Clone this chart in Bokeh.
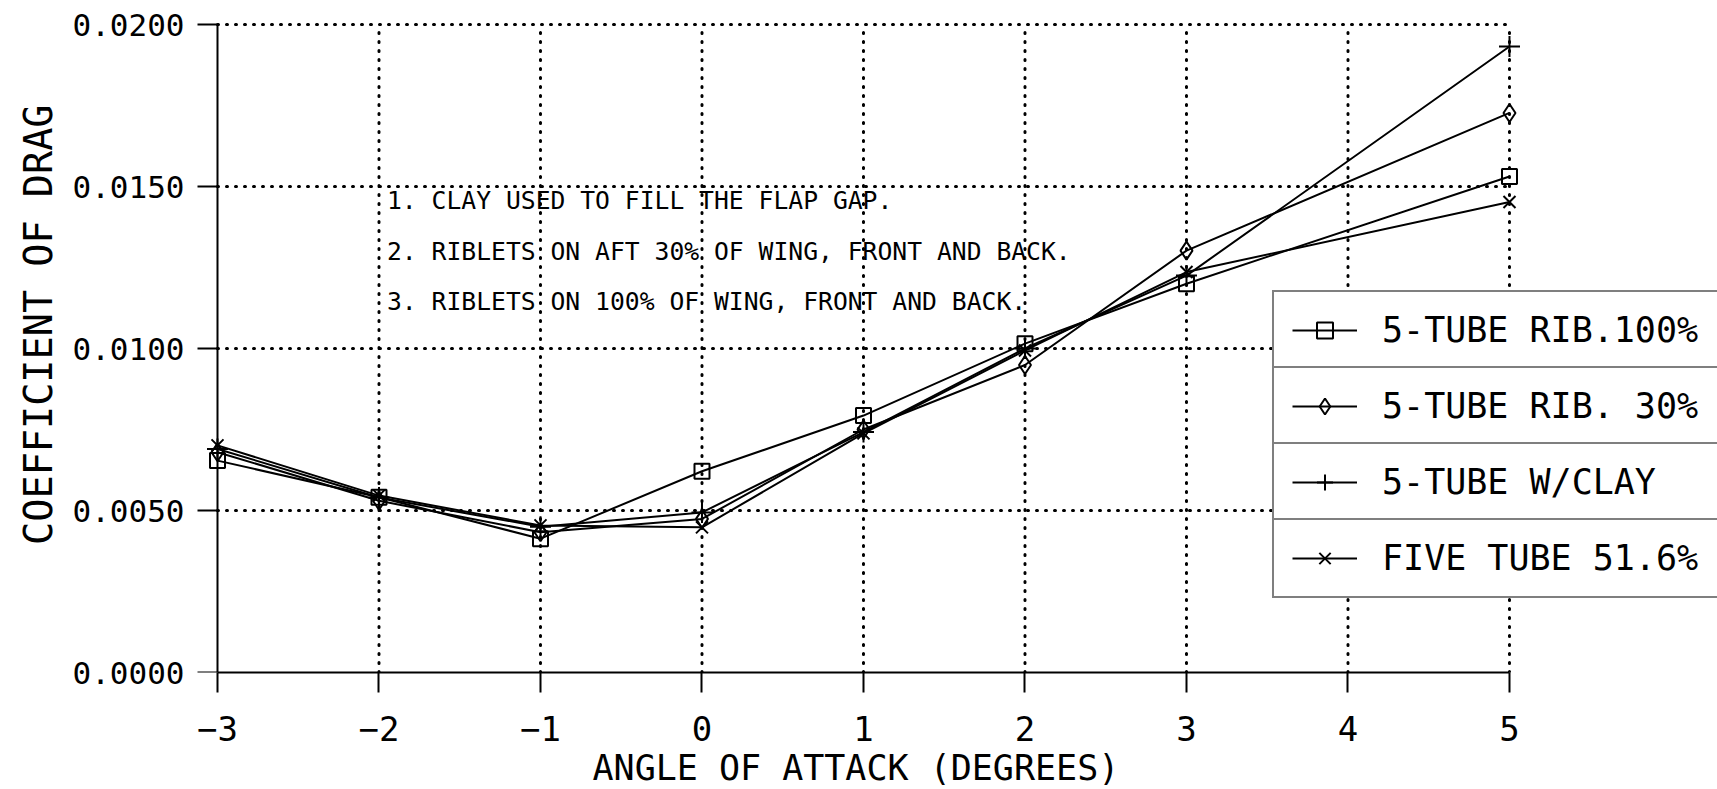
import math
from bokeh.plotting import figure
from bokeh.models import Range1d, FixedTicker, NumeralTickFormatter, Legend, LegendItem, Label, Title
from bokeh.embed import file_html
from bokeh.resources import INLINE

# ---- data -------------------------------------------------------------
aoa = [-3, -2, -1, 0, 1, 2, 3, 5]
rib100 = [0.00654, 0.00541, 0.00413, 0.00621, 0.00793, 0.01015, 0.01200, 0.01531]
rib30 = [0.00680, 0.00530, 0.00433, 0.00474, 0.00750, 0.00949, 0.01302, 0.01727]
clay = [0.00690, 0.00540, 0.00450, 0.00494, 0.00742, 0.01000, 0.01225, 0.01932]
five = [0.00701, 0.00546, 0.00454, 0.00448, 0.00738, 0.00994, 0.01236, 0.01452]

series_names = ["5-TUBE RIB.100%", "5-TUBE RIB. 30%", "5-TUBE W/CLAY", "FIVE TUBE 51.6%"]
x_ticks = [-3, -2, -1, 0, 1, 2, 3, 4, 5]
y_ticks = [0.0, 0.005, 0.010, 0.015, 0.020]
x_title = "ANGLE OF ATTACK (DEGREES)"
y_title = "COEFFICIENT OF DRAG"
notes = [
    "1. CLAY USED TO FILL THE FLAP GAP.",
    "2. RIBLETS ON AFT 30% OF WING, FRONT AND BACK.",
    "3. RIBLETS ON 100% OF WING, FRONT AND BACK.",
]

MONO = "DejaVu Sans Mono"
PX_PER_X = 161.5          # horizontal scale of the frame (px per degree)
PX_PER_Y = 648 / 0.02     # vertical scale (px per unit of Cd)

p = figure(width=1717, height=789,
           x_range=Range1d(x_ticks[0] - 22 / PX_PER_X, 6.288),
           y_range=Range1d(y_ticks[0], y_ticks[-1] + 3 / PX_PER_Y),
           output_backend="svg", toolbar_location=None,
           min_border_left=195, min_border_right=0,
           min_border_top=21, min_border_bottom=117)
p.outline_line_color = None
p.grid.visible = False
p.background_fill_color = "white"
p.border_fill_color = "white"

# ---- dotted grid --------------------------------------------------------
dot = dict(line_color="black", line_width=3, line_dash="1 8", line_cap="round")
p.segment(x0=x_ticks[1:], y0=y_ticks[0], x1=x_ticks[1:], y1=y_ticks[-1], **dot)
p.segment(x0=x_ticks[0], y0=y_ticks[1:], x1=x_ticks[-1], y1=y_ticks[1:], **dot)

# ---- left axis line and ticks at AoA = -3 ------------------------------
p.segment(x0=x_ticks[0], y0=y_ticks[0], x1=x_ticks[0], y1=y_ticks[-1],
          line_color="black", line_width=2)
p.ray(x=x_ticks[0], y=y_ticks, length=20, length_units="screen", angle=math.pi,
      line_color="black", line_width=2)

# ---- series -------------------------------------------------------------
specs = [
    (rib100, "square", 15),
    (rib30, "diamond", 18),
    (clay, "cross", 21),
    (five, "x", 17),
]
groups = []
for vals, marker, size in specs:
    ln = p.line(aoa, vals, line_color="black", line_width=2)
    sc = p.scatter(aoa, vals, marker=marker, size=size, fill_color=None,
                   line_color="black", line_width=2)
    groups.append([ln, sc])

# ---- axes ---------------------------------------------------------------
xa = p.xaxis[0]
xa.ticker = FixedTicker(ticks=x_ticks)
xa.bounds = (x_ticks[0], x_ticks[-1])
xa.axis_line_width = 2
xa.major_tick_line_width = 2
xa.major_tick_out = 20
xa.major_tick_in = 0
xa.minor_tick_out = 0
xa.minor_tick_in = 0
xa.major_label_standoff = 23
xa.major_label_text_font = MONO
xa.major_label_text_font_size = "34px"
xa.major_label_text_color = "black"

ya = p.yaxis[0]
ya.ticker = FixedTicker(ticks=y_ticks)
ya.formatter = NumeralTickFormatter(format="0.0000")
ya.axis_line_color = None
ya.major_tick_line_color = None
ya.minor_tick_line_color = None
ya.major_tick_out = 0
ya.major_tick_in = 0
ya.minor_tick_out = 0
ya.minor_tick_in = 0
ya.major_label_standoff = 11
ya.major_label_text_font = MONO
ya.major_label_text_font_size = "31px"
ya.major_label_text_color = "black"

# axis titles
p.add_layout(Title(text=x_title, align="left", offset=397, standoff=4,
                   text_font=MONO, text_font_size="35px", text_font_style="normal",
                   text_color="black"), "below")
p.add_layout(Title(text=y_title, align="right", offset=83, standoff=18,
                   text_font=MONO, text_font_size="38.5px", text_font_style="normal",
                   text_color="black"), "left")

# ---- notes --------------------------------------------------------------
for txt, yv in zip(notes, [0.01457, 0.01299, 0.01145]):
    p.add_layout(Label(x=-2, y=yv, x_offset=8, text=txt, text_baseline="middle",
                       text_font=MONO, text_font_size="24.7px", text_color="black"))

# ---- legend (one bordered box per entry) --------------------------------
for i, (name, rs) in enumerate(zip(series_names, groups)):
    lg = Legend(items=[LegendItem(label=name, renderers=rs)],
                location=(1077, 302 - 76 * i),
                border_line_color="black", border_line_width=2,
                background_fill_color="white", background_fill_alpha=1.0,
                padding=18, margin=0, spacing=0,
                glyph_width=65, glyph_height=40, label_height=40,
                label_width=420, label_standoff=25,
                label_text_font=MONO, label_text_font_size="35px",
                label_text_color="black")
    p.add_layout(lg, "center")

open("out.html", "w").write(file_html(p, INLINE))
